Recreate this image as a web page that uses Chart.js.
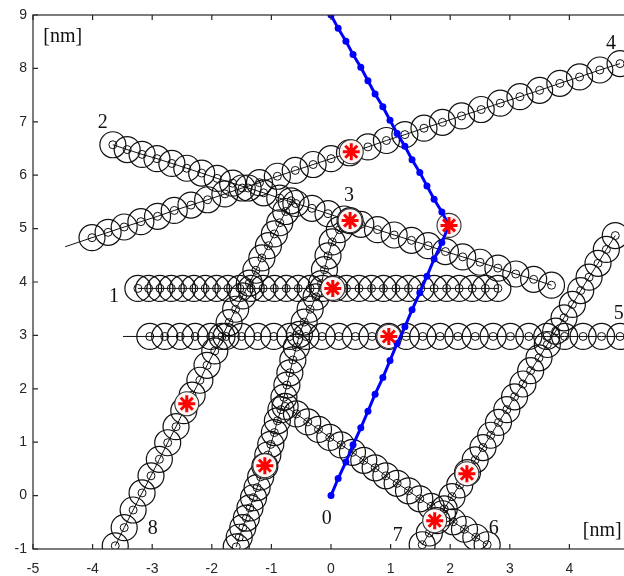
<!DOCTYPE html>
<html>
<head>
<meta charset="utf-8">
<script src="https://cdn.jsdelivr.net/npm/chart.js@4.4.0/dist/chart.umd.min.js"></script>
<style>
html, body { margin:0; padding:0; background:#fff; overflow:hidden; }
canvas { display:block; }
</style>
</head>
<body>
<canvas id="chart" width="640" height="576"></canvas>
<script>
// path 0 (blue)
const pathX = [0,0.12,0.25,0.37,0.50,0.62,0.74,0.87,0.99,1.11,1.24,1.36,1.49,1.61,1.73,1.86,1.98,1.86,1.73,1.61,1.49,1.36,1.24,1.11,0.99,0.87,0.74,0.62,0.50,0.37,0.25,0.12,0];
const pathY = [0,0.32,0.63,0.95,1.27,1.58,1.90,2.21,2.53,2.85,3.16,3.48,3.80,4.11,4.43,4.74,5.06,5.31,5.55,5.80,6.05,6.29,6.54,6.78,7.03,7.28,7.52,7.77,8.02,8.26,8.51,8.75,9.00];

// chains of circles
const c1x = [-3.24,-3.06,-2.87,-2.68,-2.49,-2.30,-2.11,-1.92,-1.73,-1.53,-1.34,-1.14,-0.95,-0.75,-0.55,-0.35,-0.14,0.06,0.26,0.47,0.68,0.88,1.09,1.30,1.51,1.73,1.94,2.15,2.37,2.59,2.80];
const c1y = [3.88,3.88,3.88,3.88,3.88,3.88,3.88,3.88,3.88,3.88,3.88,3.88,3.88,3.88,3.88,3.88,3.88,3.88,3.88,3.88,3.88,3.88,3.88,3.88,3.88,3.88,3.88,3.88,3.88,3.88,3.88];

const c2x = [-3.66,-3.42,-3.17,-2.92,-2.67,-2.42,-2.17,-1.91,-1.65,-1.39,-1.13,-0.86,-0.59,-0.32,-0.05,0.22,0.50,0.78,1.06,1.35,1.63,1.92,2.21,2.50,2.80,3.10,3.40,3.70];
const c2y = [6.57,6.48,6.39,6.31,6.22,6.13,6.04,5.94,5.85,5.76,5.67,5.57,5.47,5.38,5.28,5.18,5.08,4.98,4.88,4.78,4.68,4.57,4.47,4.37,4.26,4.15,4.05,3.94];

const c3x = [-1.59,-1.54,-1.48,-1.42,-1.36,-1.30,-1.24,-1.18,-1.11,-1.06,-1.01,-0.95,-0.90,-0.84,-0.79,-0.74,-0.69,-0.64,-0.58,-0.53,-0.45,-0.35,-0.25,-0.16,-0.11,-0.05,0.02,0.14,0.32];
const c3y = [-0.96,-0.78,-0.60,-0.42,-0.23,-0.04,0.15,0.35,0.55,0.76,0.96,1.18,1.40,1.61,1.84,2.07,2.30,2.54,2.78,3.02,3.25,3.49,3.72,3.97,4.23,4.49,4.75,4.98,5.15];

const c4x = [-4.01,-3.74,-3.47,-3.19,-2.91,-2.63,-2.35,-2.07,-1.78,-1.49,-1.20,-0.90,-0.60,-0.30,0.00,0.31,0.62,0.93,1.24,1.56,1.87,2.19,2.52,2.84,3.17,3.50,3.84,4.17,4.51,4.85];
const c4y = [4.83,4.93,5.03,5.13,5.23,5.34,5.44,5.54,5.65,5.76,5.86,5.98,6.09,6.20,6.31,6.42,6.53,6.65,6.76,6.88,6.99,7.11,7.23,7.35,7.47,7.59,7.72,7.84,7.97,8.09];
const tail4x = [-4.46,-4.01];
const tail4y = [4.66,4.83];

const c5x = [-3.04,-2.79,-2.53,-2.28,-2.02,-1.76,-1.50,-1.23,-0.96,-0.69,-0.42,-0.15,0.13,0.41,0.69,0.97,1.26,1.54,1.83,2.13,2.42,2.72,3.01,3.32,3.62,3.92,4.23,4.54,4.85,5.17];
const c5y = [2.98,2.98,2.98,2.98,2.98,2.98,2.98,2.98,2.98,2.98,2.98,2.98,2.98,2.98,2.98,2.98,2.98,2.98,2.98,2.98,2.98,2.98,2.98,2.98,2.98,2.98,2.98,2.98,2.98,2.98];
const tail5x = [-3.49,-3.04];
const tail5y = [2.98,2.98];

const c6x = [-0.77,-0.58,-0.39,-0.21,-0.02,0.17,0.36,0.55,0.74,0.92,1.11,1.30,1.49,1.68,1.87,2.05,2.24,2.43,2.62];
const c6y = [1.67,1.53,1.38,1.24,1.09,0.95,0.81,0.66,0.52,0.37,0.23,0.09,-0.06,-0.20,-0.34,-0.49,-0.63,-0.78,-0.92];

const c7x = [1.53,1.65,1.78,1.90,2.03,2.16,2.29,2.42,2.55,2.68,2.81,2.95,3.08,3.22,3.35,3.49,3.63,3.77,3.91,4.05,4.19,4.33,4.48,4.62,4.77];
const c7y = [-0.92,-0.70,-0.47,-0.25,-0.02,0.20,0.43,0.67,0.90,1.13,1.37,1.61,1.85,2.09,2.34,2.58,2.83,3.08,3.33,3.58,3.84,4.09,4.35,4.61,4.87];

const c8x = [-0.67,-0.76,-0.86,-0.95,-1.05,-1.16,-1.26,-1.37,-1.48,-1.60,-1.71,-1.83,-1.95,-2.08,-2.20,-2.33,-2.47,-2.60,-2.74,-2.88,-3.02,-3.17,-3.32,-3.47,-3.62];
const c8y = [5.52,5.32,5.11,4.90,4.68,4.45,4.22,3.98,3.74,3.49,3.24,2.98,2.71,2.44,2.16,1.88,1.59,1.29,0.99,0.68,0.37,0.05,-0.27,-0.60,-0.94];

// red stars
const starX = [0.34,0.32,1.98,0.03,0.97,-2.42,-1.11,2.28,1.74];
const starY = [6.44,5.15,5.06,3.88,2.98,1.72,0.56,0.41,-0.47];

// text labels in the plot
const labelText = ["[nm]","[nm]","0","1","2","3","4","5","6","7","8"];
const labelX = [-4.50,4.55,-0.07,-3.64,-3.83,0.30,4.70,4.83,2.73,1.12,-2.99];
const labelY = [8.60,-0.65,-0.43,3.73,6.98,5.62,8.46,3.41,-0.62,-0.75,-0.62];

function pts(xs, ys){
    return xs.map((x,i)=>({x:x, y:ys[i]}));
}

Chart.defaults.font.family = '"Liberation Sans", Arial, sans-serif';
Chart.defaults.color = "#262626";

let datasets = [];

datasets.push({
    data: pts(starX, starY), showLine:false, order:0,
    pointStyle:"star", pointRadius:8.5, pointHoverRadius:8.5,
    pointBorderColor:"#ff0000", pointBorderWidth:3, pointBackgroundColor:"#ff0000"
});
datasets.push({
    data: pts(pathX, pathY), showLine:true, order:1,
    borderColor:"#0000ff", borderWidth:3,
    pointRadius:3.5, pointHoverRadius:3.5,
    pointBackgroundColor:"#0000ff", pointBorderColor:"#0000ff", pointBorderWidth:0
});
datasets.push({
    data: pts(starX, starY), showLine:false, order:2,
    pointRadius:12, pointHoverRadius:12,
    pointBackgroundColor:"#fff6f6", pointBorderColor:"#333", pointBorderWidth:1.1
});

const chains = [[c1x,c1y],[c2x,c2y],[c3x,c3y],[c4x,c4y],[c5x,c5y],[c6x,c6y],[c7x,c7y],[c8x,c8y]];
chains.forEach(c=>{
    datasets.push({
        data: pts(c[0], c[1]), showLine:true, order:3, clip:0,
        borderColor:"#111", borderWidth:1,
        pointRadius:13, pointHoverRadius:13,
        pointBackgroundColor:"rgba(0,0,0,0)", pointBorderColor:"#111", pointBorderWidth:1.2
    });
    datasets.push({
        data: pts(c[0], c[1]), showLine:false, order:3, clip:0,
        pointRadius:4, pointHoverRadius:4,
        pointBackgroundColor:"rgba(0,0,0,0)", pointBorderColor:"#111", pointBorderWidth:1
    });
});
[[tail4x,tail4y],[tail5x,tail5y]].forEach(t=>{
    datasets.push({
        data: pts(t[0], t[1]), showLine:true, order:3, clip:0,
        borderColor:"#111", borderWidth:1, pointRadius:0
    });
});

const framePlugin = {
    id:"frame",
    afterDraw(chart){
        const ctx = chart.ctx;
        const a = chart.chartArea;
        const xs = chart.scales.x, ys = chart.scales.y;
        ctx.save();
        ctx.strokeStyle = "#262626";
        ctx.lineWidth = 1.2;
        ctx.strokeRect(a.left, a.top, a.right-a.left, a.bottom-a.top);
        ctx.beginPath();
        xs.ticks.forEach(t=>{
            let p = xs.getPixelForValue(t.value);
            ctx.moveTo(p, a.bottom); ctx.lineTo(p, a.bottom-5);
            ctx.moveTo(p, a.top); ctx.lineTo(p, a.top+5);
        });
        ys.ticks.forEach(t=>{
            let p = ys.getPixelForValue(t.value);
            ctx.moveTo(a.left, p); ctx.lineTo(a.left+5, p);
            ctx.moveTo(a.right, p); ctx.lineTo(a.right-5, p);
        });
        ctx.stroke();
        ctx.font = '20px "Liberation Serif", "Times New Roman", serif';
        ctx.fillStyle = "#111";
        ctx.textAlign = "center";
        ctx.textBaseline = "middle";
        labelText.forEach((s,i)=>{
            ctx.fillText(s, xs.getPixelForValue(labelX[i]), ys.getPixelForValue(labelY[i]));
        });
        ctx.restore();
    }
};

new Chart(document.getElementById("chart"), {
    type:"scatter",
    data:{ datasets:datasets },
    options:{
        responsive:false,
        animation:false,
        layout:{ autoPadding:false, padding:{ left:0, top:15, right:11, bottom:0 } },
        plugins:{ legend:{display:false}, tooltip:{enabled:false} },
        elements:{ line:{ tension:0 } },
        scales:{
            x:{
                type:"linear", min:-5, max:5,
                ticks:{ stepSize:1, font:{size:14}, padding:12, color:"#262626" },
                grid:{ display:false, drawTicks:false },
                border:{ display:false },
                afterFit(s){ s.height = 27; s.paddingLeft = 0; s.paddingRight = 0; }
            },
            y:{
                type:"linear", min:-1, max:9,
                ticks:{ stepSize:1, font:{size:14}, padding:6, color:"#262626" },
                grid:{ display:false, drawTicks:false },
                border:{ display:false },
                afterFit(s){ s.width = 33; s.paddingTop = 0; s.paddingBottom = 0; }
            }
        }
    },
    plugins:[framePlugin]
});
</script>
</body>
</html>
